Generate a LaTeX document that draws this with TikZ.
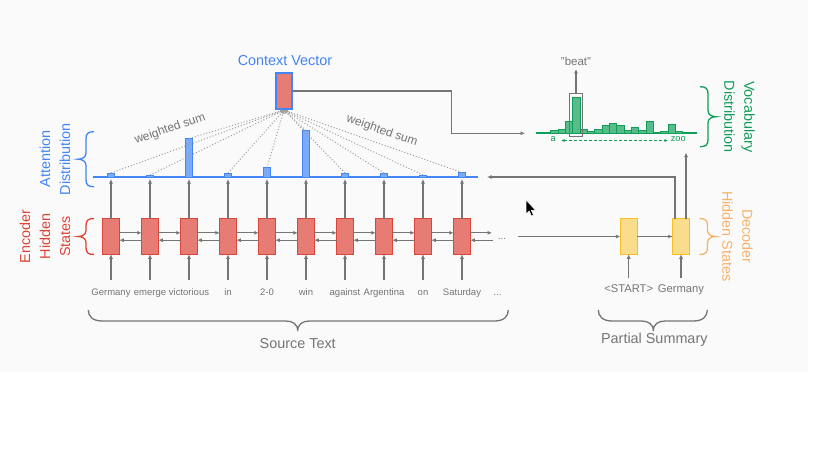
\documentclass[tikz,border=0pt]{standalone}
\usepackage{fontspec}
\setmainfont{Liberation Sans}
\usetikzlibrary{arrows.meta}
\definecolor{bgc}{HTML}{FAFAFA}
\definecolor{gblue}{HTML}{4285F4}
\definecolor{lblue}{HTML}{7BAAF7}
\definecolor{gred}{HTML}{DB4437}
\definecolor{lred}{HTML}{E67C73}
\definecolor{ggreen}{HTML}{0F9D58}
\definecolor{lgreen}{HTML}{57BB8A}
\definecolor{gyel}{HTML}{F6BF26}
\definecolor{lyel}{HTML}{F9DC8C}
\definecolor{gorange}{HTML}{F6B26B}
\definecolor{ggray}{HTML}{757575}
\definecolor{dgray}{HTML}{9E9E9E}
\newcommand\myBraceL[4]{%
  \pgfmathsetmacro\myMid{(#3+#4)/2}
  \draw[#1,braceline] (#2,#3) .. controls ({#2-6},#3) and ({#2-8},{#3+2}) .. ({#2-8},{#3+7}) -- ({#2-8},{\myMid-6}) .. controls ({#2-8},{\myMid-2}) and ({#2-12},\myMid) .. ({#2-16},\myMid) .. controls ({#2-12},\myMid) and ({#2-8},{\myMid+2}) .. ({#2-8},{\myMid+6}) -- ({#2-8},{#4-7}) .. controls ({#2-8},{#4-2}) and ({#2-6},#4) .. (#2,#4);}
\newcommand\myBraceR[4]{%
  \pgfmathsetmacro\myMid{(#3+#4)/2}
  \draw[#1,braceline] (#2,#3) .. controls ({#2+6},#3) and ({#2+8},{#3+2}) .. ({#2+8},{#3+7}) -- ({#2+8},{\myMid-6}) .. controls ({#2+8},{\myMid-2}) and ({#2+12},\myMid) .. ({#2+16},\myMid) .. controls ({#2+12},\myMid) and ({#2+8},{\myMid+2}) .. ({#2+8},{\myMid+6}) -- ({#2+8},{#4-7}) .. controls ({#2+8},{#4-2}) and ({#2+6},#4) .. (#2,#4);}
\newcommand\myBraceD[5]{%
  \draw[#1,braceline] (#2,#4) .. controls (#2,{#4+6}) and ({#2+4},{#4+11}) .. ({#2+14},{#4+11}) -- ({#5-12},{#4+11}) .. controls ({#5-5},{#4+11}) and (#5,{#4+14}) .. (#5,{#4+21}) .. controls (#5,{#4+14}) and ({#5+5},{#4+11}) .. ({#5+12},{#4+11}) -- ({#3-14},{#4+11}) .. controls ({#3-4},{#4+11}) and (#3,{#4+6}) .. (#3,#4);}
\begin{document}
\begin{tikzpicture}[x=1pt,y=-1pt,
  braceline/.style={line width=1.3pt},
  arr/.style={draw=ggray,line width=1.1pt,-{Latex[length=4.5pt,width=4pt]}},
  dotln/.style={draw=dgray,line width=1pt,dash pattern=on 1pt off 2pt,-{Latex[length=3.5pt,width=3.5pt]}},
  encbox/.style={draw=gred,fill=lred,line width=0.9pt,minimum width=16.5pt,minimum height=35.5pt,inner sep=0pt,outer sep=0pt},
  decbox/.style={draw=gyel,fill=lyel,line width=0.9pt,minimum width=16.5pt,minimum height=35.5pt,inner sep=0pt,outer sep=0pt},
  attbar/.style={draw=gblue,fill=lblue,line width=0.8pt,minimum width=7.5pt,inner sep=0pt,outer sep=0pt,anchor=south},
  vbar/.style={draw=ggreen,fill=lgreen,line width=0.6pt,minimum width=7.33pt,inner sep=0pt,outer sep=0pt,anchor=south},
  word/.style={text=ggray,font=\fontsize{9.5}{11}\selectfont,inner sep=0pt,text height=7pt,text depth=2pt},
  dword/.style={text=ggray,font=\fontsize{11.2}{13}\selectfont,inner sep=0pt,text height=8pt,text depth=2.5pt},
  biglab/.style={font=\fontsize{14.4}{20}\selectfont,align=center,inner sep=0pt},
  midlab/.style={text=ggray,font=\fontsize{12}{14}\selectfont,inner sep=0pt}]
\useasboundingbox (0,0) rectangle (819,460);
\fill[white] (0,0) rectangle (819,460);
\fill[bgc] (0,0) rectangle (808,372);

% attention line
\coordinate (attL) at (93,177);
\coordinate (attR) at (478,177);
\draw[gblue,line width=1.2pt] (attL) -- (attR);

% encoder boxes, words, bars
\foreach \w [count=\i from 0] in {Germany,emerge,victorious,in,2-0,win,against,Argentina,on,Saturday} {
  \node[encbox] (e\i) at ({111+39*\i},236.5) {};
  \node[word] (w\i) at ({111+39*\i},292.5) {\w};
  \draw[arr] ([yshift=8pt]w\i.north) -- (e\i.south);
}
\foreach \h [count=\i from 0] in {4.5,2.5,39,4.5,10,47,4.5,4.5,2.5,5} {
  \node[attbar,minimum height=\h] (b\i) at ({111+39*\i},177.5) {};
  \draw[arr,shorten >=1.5pt] (e\i.north) -- (b\i.south);
}
\foreach \i [evaluate=\i as \j using int(\i+1)] in {0,...,8} {
  \draw[arr] ([yshift=3.7pt]e\i.east) -- ([yshift=3.7pt]e\j.west);
  \draw[arr] ([yshift=-3.7pt]e\j.west) -- ([yshift=-3.7pt]e\i.east);
}
\coordinate (ef) at (492,232.8);
\coordinate (eb) at (493,240.2);
\draw[arr] ([yshift=3.7pt]e9.east) -- (ef);
\draw[arr] (eb) -- ([yshift=-3.7pt]e9.east);
\node[text=ggray,font=\fontsize{10}{12}\selectfont,anchor=base,inner sep=0pt] (dots1) at (502,239.5) {...};
\node[text=ggray,font=\fontsize{10}{12}\selectfont,anchor=base,inner sep=0pt] (dots2) at (497.5,295.5) {...};

% context vector
\node[draw=gblue,fill=lred,line width=2.2pt,minimum width=16pt,minimum height=36pt,inner sep=0pt] (cv) at (284,91) {};
\node[biglab,text=gblue] (cvlab) at (285,61) {Context Vector};
\foreach \i in {0,...,9} {
  \draw[dotln] (b\i.north) -- (cv.south);
}
\node[midlab,rotate=19] (ws1) at (170,129) {weighted sum};
\node[midlab,rotate=-19] (ws2) at (382,131) {weighted sum};

% context to vocabulary
\coordinate (cvturn) at (451.7,133.3);
\coordinate (vin) at (525,133.3);
\draw[arr] (cv.east) -| (cvturn) -- (vin);

% vocabulary distribution
\coordinate (vl) at (536,133);
\coordinate (vr) at (697,133);
\draw[ggreen,line width=1.2pt] (vl) -- (vr);
\foreach \h [count=\i from 0] in {3,3.7,11.3,35.7,3.7,2,3.7,8,9.7,8,2.3,6,2.3,11.3,0.7,1.3,8.7,1.3} {
  \node[vbar,minimum height=\h] (v\i) at ({554.4+7.33*\i},133) {};
}
\node[draw=ggray,line width=1pt,minimum width=13.4pt,minimum height=42.7pt,inner sep=0pt] (sel) at (576,115.3) {};
\node[text=ggray,font=\fontsize{11.5}{13}\selectfont,inner sep=0pt] (beat) at (576,61.5) {"beat"};
\draw[arr,shorten >=3pt] (sel.north) -- (beat.south);
\node[text=ggreen,font=\fontsize{9.3}{11}\selectfont,inner sep=1pt] (va) at (553.3,139.5) {a};
\node[text=ggreen,font=\fontsize{9.3}{11}\selectfont,inner sep=1pt] (vz) at (678.3,139.5) {zoo};
\draw[ggreen,line width=1pt,dash pattern=on 3pt off 2pt,{Latex[length=3.5pt,width=3pt]}-{Latex[length=3.5pt,width=3pt]},shorten <=4pt,shorten >=1.5pt] ([yshift=-1pt]va.east) -- ([yshift=-1pt]vz.west);

% decoder
\node[decbox] (d0) at (628.7,236.5) {};
\node[decbox] (d1) at (681,236.5) {};
\coordinate (encend) at (518,236.5);
\draw[arr] (encend) -- (d0.west);
\draw[arr] (d0.east) -- (d1.west);
\node[dword] (s0) at (628.7,290) {<START>};
\node[dword] (s1) at (681,290) {Germany};
\draw[arr] ([yshift=7pt]s0.north) -- (d0.south);
\draw[arr] ([yshift=7pt]s1.north) -- (d1.south);
\coordinate (attin) at (487,177);
\coordinate (vocin) at (686,152.5);
\draw[arr] ([xshift=-6pt]d1.north) |- (attin);
\draw[arr] ([xshift=5pt]d1.north) -- (vocin);

% braces and labels
\myBraceL{gblue}{94}{131.7}{186.7}
\myBraceL{gred}{94}{218.5}{254.5}
\myBraceR{ggreen}{700}{86.7}{146.7}
\myBraceR{gorange}{699.5}{218.5}{254.5}
\myBraceD{ggray}{88.3}{508.3}{310}{297.7}
\myBraceD{ggray}{598.3}{707.3}{310}{653.3}
\node[biglab,text=gblue,rotate=90] (attlab) at (55,159) {Attention\\Distribution};
\node[biglab,text=gred,rotate=90] (enclab) at (45,236.5) {Encoder\\Hidden\\States};
\node[biglab,text=ggreen,rotate=-90] (voclab) at (739.5,116.7) {Vocabulary\\Distribution};
\node[biglab,text=gorange,rotate=-90] (declab) at (737.5,236.5) {Decoder\\Hidden States};
\node[biglab,text=ggray] (srclab) at (297.7,343.3) {Source Text};
\node[biglab,text=ggray] (parlab) at (654.3,339.3) {Partial Summary};

% mouse pointer
\fill[black,draw=white,line width=0.5pt] (526,200) -- (526,214) -- (529.2,211) -- (531.5,216) -- (533.5,215.2) -- (531.3,210.3) -- (535.5,210.3) -- cycle;
\end{tikzpicture}
\end{document}
